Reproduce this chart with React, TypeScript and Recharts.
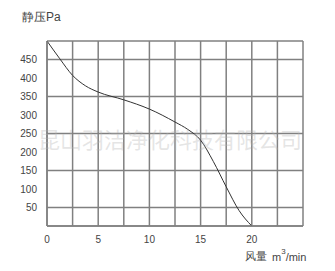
import { LineChart, Line, XAxis, YAxis, CartesianGrid } from 'recharts';

// 风量 (m³/min) vs 静压 (Pa)
const flow = [0, 1.25, 2.5, 3.75, 5, 7.5, 10, 12.5, 13.75, 15, 16.25, 17.5, 18.75, 20];
const pressure = [500, 452, 407, 379, 362, 341, 316, 281, 261, 232, 174, 106, 42, 0];

const xTicks = [0, 2.5, 5, 7.5, 10, 12.5, 15, 17.5, 20, 22.5, 25];
const yTicks = [0, 50, 100, 150, 200, 250, 300, 350, 400, 450, 500];
const xLabels = [0, 5, 10, 15, 20];
const yLabels = [50, 100, 150, 200, 250, 300, 350, 400, 450];

const chartData = flow.map((f, i) => ({ flow: f, pressure: pressure[i] }));

const gridColor = '#808080';
const textColor = '#444';
const font = '"Liberation Sans", Arial, sans-serif';

export default function App() {
    return (
        <div style={{ position: 'absolute', left: 0, top: 0, width: 335, height: 271, background: '#fff', fontFamily: font }}>
            <div style={{ position: 'absolute', left: 22, top: 9, fontSize: 12, color: textColor }}>静压Pa</div>
            <LineChart
                width={335}
                height={271}
                data={chartData}
                margin={{ top: 41, right: 32, left: 7, bottom: 25 }}
            >
                <CartesianGrid stroke={gridColor} strokeWidth={1.5} />
                <XAxis
                    dataKey="flow"
                    type="number"
                    domain={[0, 25]}
                    ticks={xTicks}
                    tickFormatter={(v) => (xLabels.includes(v) ? String(v) : '')}
                    axisLine={{ stroke: gridColor, strokeWidth: 1.5 }}
                    tickLine={false}
                    tick={{ fill: textColor, fontSize: 10, fontFamily: font }}
                    height={20}
                    tickMargin={4}
                />
                <YAxis
                    type="number"
                    domain={[0, 500]}
                    ticks={yTicks}
                    tickFormatter={(v) => (yLabels.includes(v) ? String(v) : '')}
                    axisLine={{ stroke: gridColor, strokeWidth: 1.5 }}
                    tickLine={false}
                    tick={{ fill: textColor, fontSize: 10, fontFamily: font }}
                    width={40}
                    tickMargin={4}
                />
                <Line
                    type="monotone"
                    dataKey="pressure"
                    stroke="#333"
                    strokeWidth={1}
                    dot={false}
                    isAnimationActive={false}
                />
            </LineChart>
            <div
                style={{
                    position: 'absolute',
                    left: 38,
                    top: 126,
                    fontSize: 22,
                    color: 'rgba(180,180,180,0.35)',
                    whiteSpace: 'nowrap',
                    fontFamily: '"Noto Sans CJK SC", sans-serif',
                    lineHeight: '24px',
                }}
            >
                昆山羽洁净化科技有限公司
            </div>
            <div style={{ position: 'absolute', left: 245, top: 249, fontSize: 11, color: textColor, whiteSpace: 'nowrap', lineHeight: '14px' }}>
                风量
            </div>
            <div style={{ position: 'absolute', left: 272, top: 248, fontSize: 11, color: textColor, whiteSpace: 'nowrap', lineHeight: '15px' }}>
                m<sup style={{ fontSize: 8, verticalAlign: 7, lineHeight: '8px' }}>3</sup>/min
            </div>
        </div>
    );
}
